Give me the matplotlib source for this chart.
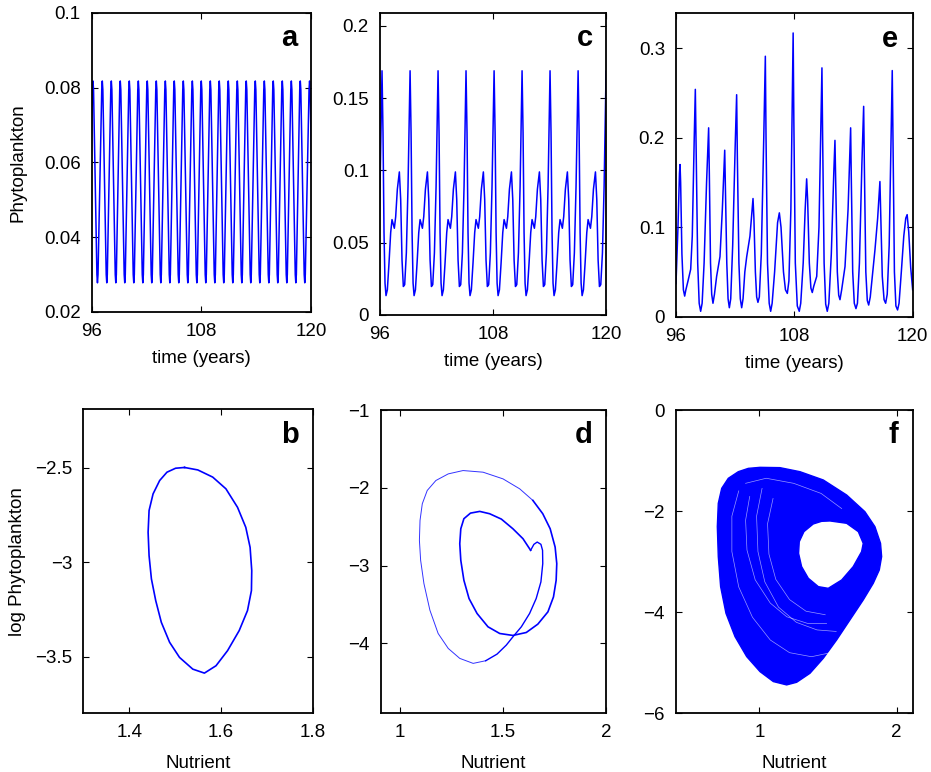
import matplotlib
matplotlib.use("Agg")
import matplotlib.pyplot as plt
import numpy as np
from matplotlib.path import Path
from matplotlib.patches import PathPatch

# --- panel a: regular cycle (peak times) ---
a_peak_t = [95.12, 96.11, 97.13, 98.12, 99.10, 100.09, 101.08, 102.06, 103.05, 104.04,
            105.02, 106.01, 107.00, 107.98, 108.97, 109.95, 110.94, 111.93,
            112.91, 113.90, 114.89, 115.87, 116.86, 117.85, 118.83, 119.85]
a_cycle_off = [-0.06, 0.0, 0.06, 0.43, 0.49, 0.55]
a_cycle_val = [0.0795, 0.0818, 0.0795, 0.0300, 0.0278, 0.0300]

# --- panel c: 3-year cycle with a big peak, a shoulder and a small peak ---
c_peak_t = [93.24, 96.21, 99.19, 102.16, 105.13, 108.11, 111.08, 114.05, 117.03, 120.00]
c_cycle_off = [0.0, 0.106, 0.212, 0.319, 0.425, 0.566, 0.743, 0.920, 1.062, 1.204, 1.310,
               1.451, 1.628, 1.841, 1.982, 2.124, 2.265, 2.407, 2.584, 2.761, 2.903]
c_cycle_val = [0.169, 0.126, 0.057, 0.022, 0.0134, 0.0174, 0.036, 0.057, 0.066, 0.0625, 0.060,
               0.068, 0.087, 0.099, 0.080, 0.038, 0.0197, 0.021, 0.043, 0.089, 0.142]

# --- panel e: irregular series ---
e_t = [96.00, 96.20, 96.35, 96.41, 96.47, 96.60, 96.75, 96.88, 97.00, 97.22, 97.49, 97.65,
       97.85, 97.96, 98.05, 98.20, 98.35, 98.50, 98.65, 98.85, 99.10, 99.31, 99.38, 99.50,
       99.62, 99.75, 99.90, 100.12, 100.46, 100.70, 100.94, 101.00, 101.15, 101.28, 101.41,
       101.55, 101.75, 102.00, 102.15, 102.22, 102.38, 102.52, 102.66, 102.80, 102.98,
       103.17, 103.50, 103.81, 103.90, 104.05, 104.18, 104.31, 104.45, 104.65, 104.90,
       105.06, 105.13, 105.28, 105.45, 105.60, 105.75, 106.00, 106.30, 106.48, 106.65,
       106.90, 107.10, 107.29, 107.45, 107.65, 107.80, 107.88, 107.95, 108.10, 108.30,
       108.50, 108.65, 108.90, 109.10, 109.25, 109.35, 109.52, 109.68, 109.82, 109.97,
       110.27, 110.50, 110.70, 110.80, 110.87, 111.02, 111.18, 111.34, 111.50, 111.75,
       112.00, 112.12, 112.20, 112.36, 112.50, 112.63, 112.80, 113.14, 113.45, 113.71,
       113.77, 113.92, 114.08, 114.25, 114.40, 114.60, 114.85, 115.03, 115.10, 115.25,
       115.40, 115.54, 115.70, 115.95, 116.18, 116.45, 116.68, 116.75, 116.92, 117.10,
       117.26, 117.42, 117.62, 117.82, 117.93, 118.00, 118.15, 118.30, 118.47, 118.62,
       118.85, 119.10, 119.30, 119.44, 119.60, 119.80, 120.00]
e_val = [0.037, 0.100, 0.160, 0.170, 0.150, 0.070, 0.030, 0.023, 0.030, 0.040, 0.053, 0.090,
         0.200, 0.254, 0.180, 0.060, 0.015, 0.006, 0.015, 0.060, 0.150, 0.211, 0.160, 0.060,
         0.025, 0.015, 0.025, 0.045, 0.067, 0.120, 0.186, 0.150, 0.060, 0.020, 0.010,
         0.020, 0.080, 0.190, 0.248, 0.180, 0.060, 0.020, 0.010, 0.020, 0.050,
         0.067, 0.090, 0.132, 0.110, 0.050, 0.022, 0.016, 0.022, 0.070, 0.200,
         0.291, 0.200, 0.060, 0.015, 0.006, 0.015, 0.050, 0.105, 0.116, 0.100,
         0.050, 0.030, 0.026, 0.040, 0.120, 0.250, 0.317, 0.220, 0.060, 0.012,
         0.006, 0.015, 0.060, 0.120, 0.154, 0.130, 0.060, 0.032, 0.027, 0.034,
         0.045, 0.100, 0.220, 0.278, 0.200, 0.060, 0.014, 0.006, 0.015, 0.070,
         0.160, 0.197, 0.150, 0.050, 0.024, 0.019, 0.030, 0.056, 0.120, 0.211,
         0.160, 0.050, 0.015, 0.009, 0.015, 0.060, 0.170, 0.235, 0.170, 0.050,
         0.018, 0.013, 0.022, 0.050, 0.075, 0.110, 0.151, 0.120, 0.045, 0.019,
         0.015, 0.025, 0.080, 0.210, 0.275, 0.200, 0.050, 0.012, 0.0075, 0.015,
         0.050, 0.090, 0.110, 0.114, 0.095, 0.055, 0.030]

# --- panel b: limit cycle ---
b_n = [1.5206, 1.5495, 1.5820, 1.6108, 1.6361, 1.6541, 1.6635, 1.6671, 1.6664, 1.6578,
       1.6397, 1.6144, 1.5892, 1.5639, 1.5386, 1.5097, 1.4881, 1.4700, 1.4578, 1.4484,
       1.4433, 1.4412, 1.4433, 1.4520, 1.4664, 1.4823, 1.5011, 1.5206]
b_logp = [-2.498, -2.511, -2.549, -2.611, -2.709, -2.815, -2.921, -3.044, -3.150, -3.256,
          -3.362, -3.468, -3.548, -3.587, -3.566, -3.504, -3.424, -3.318, -3.203, -3.088,
          -2.965, -2.841, -2.726, -2.638, -2.567, -2.523, -2.502, -2.498]

# --- panel d: period-2 orbit ---
d_n = [1.634, 1.597, 1.548, 1.492, 1.435, 1.387, 1.342, 1.310, 1.295, 1.290, 1.295, 1.310,
       1.335, 1.374, 1.427, 1.484, 1.548, 1.613, 1.669, 1.718, 1.745, 1.758, 1.761, 1.753,
       1.729, 1.693, 1.645, 1.581, 1.500, 1.403, 1.306, 1.234, 1.174, 1.132, 1.108, 1.097,
       1.094, 1.100, 1.116, 1.145, 1.185, 1.234, 1.290, 1.355, 1.416, 1.471, 1.516, 1.548,
       1.589, 1.629, 1.661, 1.684, 1.693, 1.692, 1.684, 1.666, 1.650, 1.634]
d_logp = [-2.803, -2.654, -2.526, -2.402, -2.333, -2.303, -2.325, -2.397, -2.526, -2.718,
          -2.932, -3.188, -3.423, -3.615, -3.786, -3.872, -3.897, -3.859, -3.752, -3.594,
          -3.402, -3.188, -2.974, -2.761, -2.526, -2.333, -2.162, -2.013, -1.885, -1.799,
          -1.778, -1.821, -1.906, -2.034, -2.205, -2.419, -2.675, -2.932, -3.231, -3.573,
          -3.872, -4.064, -4.192, -4.256, -4.222, -4.137, -4.021, -3.915, -3.786, -3.615,
          -3.423, -3.209, -2.974, -2.803, -2.726, -2.697, -2.726, -2.803]

# --- panel f: chaotic attractor, outer edge and inner hole ---
f_outer_n = [1.005, 1.150, 1.296, 1.466, 1.636, 1.769, 1.842, 1.883, 1.891, 1.874, 1.830,
             1.757, 1.660, 1.563, 1.466, 1.369, 1.272, 1.199, 1.102, 1.005, 0.908, 0.823,
             0.757, 0.718, 0.701, 0.694, 0.701, 0.726, 0.774, 0.847, 0.920]
f_outer_logp = [-1.134, -1.140, -1.220, -1.384, -1.681, -2.011, -2.307, -2.637, -2.900,
                -3.164, -3.428, -3.757, -4.153, -4.549, -4.911, -5.208, -5.386, -5.438,
                -5.372, -5.175, -4.878, -4.483, -4.021, -3.494, -2.900, -2.307, -1.846,
                -1.549, -1.351, -1.220, -1.154]
f_inner_n = [1.515, 1.636, 1.721, 1.757, 1.745, 1.684, 1.600, 1.502, 1.430, 1.357, 1.308,
             1.286, 1.291, 1.325, 1.393, 1.454]
f_inner_logp = [-2.195, -2.241, -2.406, -2.637, -2.802, -3.098, -3.362, -3.527, -3.494,
                -3.329, -3.098, -2.835, -2.604, -2.406, -2.254, -2.202]
# visible gaps between the loops of the attractor
f_gap_n = [[0.85, 0.80, 0.80, 0.85, 0.95, 1.08, 1.22, 1.38, 1.52],
           [0.93, 0.90, 0.91, 0.97, 1.08, 1.20, 1.35, 1.49],
           [1.02, 0.98, 0.99, 1.04, 1.14, 1.27, 1.42, 1.56],
           [1.10, 1.06, 1.07, 1.12, 1.22, 1.34, 1.48],
           [0.90, 1.05, 1.25, 1.45, 1.60]]
f_gap_logp = [[-1.60, -2.10, -2.80, -3.50, -4.10, -4.55, -4.80, -4.88, -4.80],
              [-1.71, -2.18, -2.77, -3.36, -3.82, -4.09, -4.22, -4.22],
              [-1.55, -2.10, -2.80, -3.40, -3.90, -4.20, -4.35, -4.38],
              [-1.75, -2.25, -2.85, -3.35, -3.75, -3.98, -4.05],
              [-1.45, -1.35, -1.45, -1.65, -1.95]]

BLUE = '#0000ff'
plt.rcParams['font.family'] = ['Liberation Sans', 'DejaVu Sans']
plt.rcParams['font.size'] = 13.5
plt.rcParams['axes.linewidth'] = 1.3

fig = plt.figure(figsize=(9.31, 7.72), dpi=100)
ax_a = fig.add_axes([0.0988, 0.5959, 0.2352, 0.3873])
ax_c = fig.add_axes([0.4082, 0.5920, 0.2428, 0.3912])
ax_e = fig.add_axes([0.7261, 0.5898, 0.2542, 0.3930])
ax_b = fig.add_axes([0.0895, 0.0760, 0.2464, 0.3938])
ax_d = fig.add_axes([0.4089, 0.0768, 0.2420, 0.3921])
ax_f = fig.add_axes([0.7261, 0.0760, 0.2542, 0.3929])


def cycles(peaks, off, val):
    t = np.concatenate([p + np.array(off) for p in peaks])
    v = np.concatenate([np.array(val) for p in peaks])
    return t, v


ta, va = cycles(a_peak_t, a_cycle_off, a_cycle_val)
ax_a.plot(ta, va, color=BLUE, lw=1.1)
tc, vc = cycles(c_peak_t, c_cycle_off, c_cycle_val)
ax_c.plot(tc, vc, color=BLUE, lw=1.1)
ax_e.plot(e_t, e_val, color=BLUE, lw=1.1)

ax_b.plot(b_n, b_logp, color=BLUE, lw=1.2)

ax_d.plot(d_n[:27], d_logp[:27], color=BLUE, lw=1.2)
ax_d.plot(d_n[26:45], d_logp[26:45], color=BLUE, lw=0.7, alpha=0.8)
ax_d.plot(d_n[44:], d_logp[44:], color=BLUE, lw=1.0)

verts = list(zip(f_outer_n, f_outer_logp)) + [(f_outer_n[0], f_outer_logp[0])]
hole = list(zip(f_inner_n[::-1], f_inner_logp[::-1])) + [(f_inner_n[-1], f_inner_logp[-1])]
codes = [Path.MOVETO] + [Path.LINETO] * (len(verts) - 2) + [Path.CLOSEPOLY]
codes += [Path.MOVETO] + [Path.LINETO] * (len(hole) - 2) + [Path.CLOSEPOLY]
ax_f.add_patch(PathPatch(Path(verts + hole, codes), facecolor=BLUE, edgecolor=BLUE, lw=1.0))
for gx, gy in zip(f_gap_n, f_gap_logp):
    ax_f.plot(gx, gy, color='white', lw=0.5, alpha=0.6)

# axes setup
for ax in [ax_a, ax_c, ax_e]:
    ax.set_xlim(96, 120)
    ax.set_xticks([96, 108, 120])
    ax.set_xticklabels(['96', '108', '120'])
    ax.set_xlabel('time (years)', labelpad=7)

ax_a.set_ylim(0.02, 0.1)
ax_a.set_yticks([0.02, 0.04, 0.06, 0.08, 0.1])
ax_a.set_yticklabels(['0.02', '0.04', '0.06', '0.08', '0.1'])
ax_a.set_ylabel('Phytoplankton')

ax_c.set_ylim(0, 0.209)
ax_c.set_yticks([0, 0.05, 0.1, 0.15, 0.2])
ax_c.set_yticklabels(['0', '0.05', '0.1', '0.15', '0.2'])

ax_e.set_ylim(0, 0.339)
ax_e.set_yticks([0, 0.1, 0.2, 0.3])
ax_e.set_yticklabels(['0', '0.1', '0.2', '0.3'])

ax_b.set_xlim(1.3, 1.8)
ax_b.set_xticks([1.4, 1.6, 1.8])
ax_b.set_xticklabels(['1.4', '1.6', '1.8'])
ax_b.set_ylim(-3.8, -2.19)
ax_b.set_yticks([-3.5, -3, -2.5])
ax_b.set_yticklabels(['\u22123.5', '\u22123', '\u22122.5'])
ax_b.set_ylabel('log Phytoplankton')

ax_d.set_xlim(0.906, 2)
ax_d.set_xticks([1, 1.5, 2])
ax_d.set_xticklabels(['1', '1.5', '2'])
ax_d.set_ylim(-4.89, -1)
ax_d.set_yticks([-4, -3, -2, -1])
ax_d.set_yticklabels(['\u22124', '\u22123', '\u22122', '\u22121'])

ax_f.set_xlim(0.393, 2.117)
ax_f.set_xticks([1, 2])
ax_f.set_xticklabels(['1', '2'])
ax_f.set_ylim(-6, 0)
ax_f.set_yticks([-6, -4, -2, 0])
ax_f.set_yticklabels(['\u22126', '\u22124', '\u22122', '0'])

for ax in [ax_b, ax_d, ax_f]:
    ax.set_xlabel('Nutrient', labelpad=10)

for ax, letter in zip([ax_a, ax_c, ax_e, ax_b, ax_d, ax_f], 'acebdf'):
    ax.tick_params(direction='in', top=True, right=True, length=4, width=0.8,
                   labelsize=13.5, pad=8)
    ax.text(0.94, 0.89, letter, transform=ax.transAxes, ha='right', va='baseline',
            fontsize=21, fontweight='bold')

ax_a.yaxis.set_label_coords(-0.30, 0.5)
ax_b.yaxis.set_label_coords(-0.25, 0.5)

fig.savefig('out.png', dpi=100)
